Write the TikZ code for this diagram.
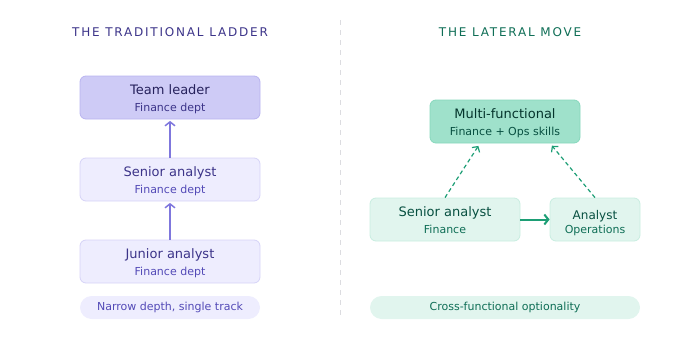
\documentclass[tikz,border=0pt]{standalone}
\usepackage{fontspec}
\setmainfont{DejaVu Sans}
\usetikzlibrary{positioning, arrows.meta}

\definecolor{ladderdark}{HTML}{26215C}
\definecolor{laddertext}{HTML}{3C3489}
\definecolor{laddersub}{HTML}{534AB7}
\definecolor{ladderline}{HTML}{7F77DD}
\definecolor{ladderfill}{HTML}{EEEDFE}
\definecolor{ladderedge}{HTML}{D6D3F7}
\definecolor{ladderlead}{HTML}{CECBF6}
\definecolor{ladderleadedge}{HTML}{B9B4F0}
\definecolor{movedark}{HTML}{04342C}
\definecolor{movetext}{HTML}{085041}
\definecolor{movesub}{HTML}{0F6E56}
\definecolor{moveline}{HTML}{1D9E75}
\definecolor{movefill}{HTML}{E1F5EE}
\definecolor{moveedge}{HTML}{C8EDE0}
\definecolor{movetop}{HTML}{9FE1CB}
\definecolor{movetopedge}{HTML}{86D8BC}
\definecolor{divider}{HTML}{DCDCE0}

\newcommand{\cardtitle}[2][14pt]{\rule{0pt}{#1}#2}
\newcommand{\subline}[2]{{\fontsize{11}{13}\selectfont\color{#1}\rule[-3pt]{0pt}{3pt}#2}}

\begin{document}
\begin{tikzpicture}[x=1pt, y=-1pt,
  heading/.style={font=\fontsize{12}{14}\selectfont\addfontfeature{LetterSpace=15}},
  card/.style={rounded corners=6pt, minimum height=43pt, align=center,
    inner sep=0pt, line width=0.8pt, font=\fontsize{13}{17}\selectfont},
  pill/.style={rounded corners=11.5pt, minimum height=23pt, inner sep=0pt,
    font=\fontsize{11}{13}\selectfont},
  ladderarrow/.style={-{Straight Barb[length=4pt, width=10pt]}, line width=1.5pt, ladderline},
  movearrow/.style={-{Straight Barb[length=4pt, width=10pt]}, line width=2pt, moveline},
  maybearrow/.style={-{Straight Barb[length=4pt, width=9pt]}, line width=1.2pt, moveline,
    dash pattern=on 4pt off 3pt, shorten >=3pt}]

\useasboundingbox (0, 0) rectangle (680, 340);

% --- Headings ---
\node[heading, text=laddertext] (ladderhead) at (170, 32) {THE TRADITIONAL LADDER};
\node[heading, text=movesub] (movehead) at (510, 32) {THE LATERAL MOVE};

% --- Divider ---
\draw[divider, line width=0.8pt, dash pattern=on 5pt off 5pt] (340, 20) -- (340, 318);

% --- Traditional ladder ---
\node[card, minimum width=180pt, fill=ladderlead, draw=ladderleadedge, text=ladderdark]
  (leader) at (170, 97.5) {\cardtitle{Team leader}\\\subline{laddertext}{Finance dept}};
\node[card, minimum width=180pt, fill=ladderfill, draw=ladderedge, text=laddertext]
  (senior) at (170, 179.5) {\cardtitle{Senior analyst}\\\subline{laddersub}{Finance dept}};
\node[card, minimum width=180pt, fill=ladderfill, draw=ladderedge, text=laddertext]
  (junior) at (170, 261.5) {\cardtitle{Junior analyst}\\\subline{laddersub}{Finance dept}};

\draw[ladderarrow, shorten >=1.5pt] (senior) -- (leader);
\draw[ladderarrow, shorten >=1.5pt] (junior) -- (senior);

\node[pill, minimum width=180pt, fill=ladderfill, text=laddersub]
  (narrow) at (170, 307.5) {Narrow depth, single track};

% --- Lateral move ---
\node[card, minimum width=150pt, fill=movetop, draw=movetopedge, text=movedark]
  (multi) at (505, 121.5) {\cardtitle{Multi-functional}\\\subline{movetext}{Finance + Ops skills}};
\node[card, minimum width=150pt, fill=movefill, draw=moveedge, text=movetext]
  (finsenior) at (445, 219.5) {\cardtitle{Senior analyst}\\\subline{movesub}{Finance}};
\node[card, minimum width=90pt, fill=movefill, draw=moveedge, text=movetext,
  font=\fontsize{12}{14}\selectfont]
  (opsanalyst) at (595, 219.5) {\cardtitle[17pt]{Analyst}\\\subline{movesub}{Operations}};

\draw[movearrow] (finsenior) -- (opsanalyst);
\draw[maybearrow] (finsenior.north) -- ([xshift=-25pt]multi.south);
\draw[maybearrow] (opsanalyst.north) -- ([xshift=45pt]multi.south);

\node[pill, minimum width=270pt, fill=movefill, text=movesub]
  (optional) at (505, 307.5) {Cross-functional optionality};

\end{tikzpicture}
\end{document}
